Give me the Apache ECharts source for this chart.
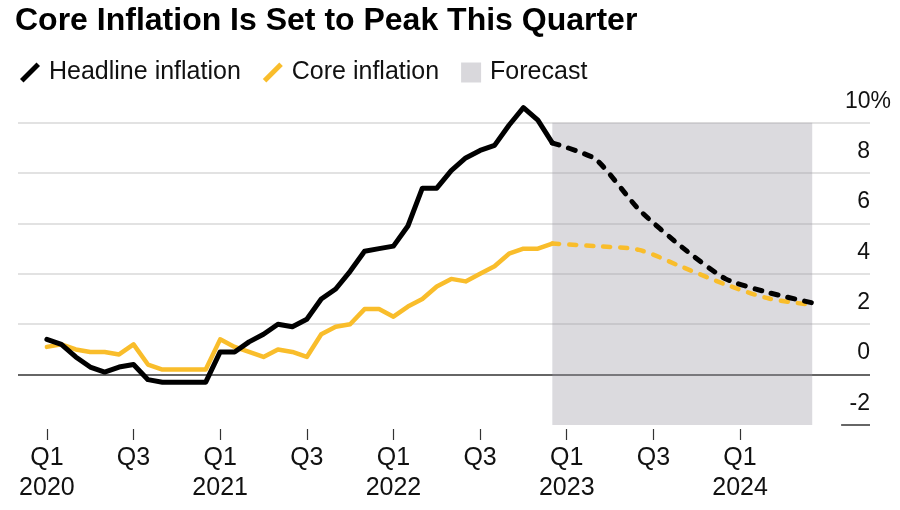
<!DOCTYPE html>
<html><head><meta charset="utf-8">
<script src="https://cdn.jsdelivr.net/npm/echarts@6/dist/echarts.min.js"></script>
<style>html,body{margin:0;padding:0;background:#fff}#c{width:900px;height:510px}</style>
</head><body><div id="c"></div>
<script>
// Month categories (axis range: Nov 2019 – Oct 2024)
const months = [];
for (let y = 2019; y <= 2024; y++) {
  for (let m = 1; m <= 12; m++) {
    const k = y + '-' + String(m).padStart(2, '0');
    if (k >= '2019-11' && k <= '2024-10') months.push(k);
  }
}
// Actual monthly readings, Jan 2020 – Dec 2022
const actualMonths = months.slice(2, 38);
const headlineActual = [1.4,1.2,0.7,0.3,0.1,0.3,0.4,-0.2,-0.3,-0.3,-0.3,-0.3,
  0.9,0.9,1.3,1.6,2.0,1.9,2.2,3.0,3.4,4.1,4.9,5.0,
  5.1,5.9,7.4,7.4,8.1,8.6,8.9,9.1,9.9,10.6,10.1,9.2];
const coreActual = [1.1,1.2,1.0,0.9,0.9,0.8,1.2,0.4,0.2,0.2,0.2,0.2,
  1.4,1.1,0.9,0.7,1.0,0.9,0.7,1.6,1.9,2.0,2.6,2.6,
  2.3,2.7,3.0,3.5,3.8,3.7,4.0,4.3,4.8,5.0,5.0,5.2];
// Quarterly forecast
const forecastMonths = ['2022-12','2023-03','2023-06','2023-09','2023-12','2024-03','2024-06'];
const headlineForecast = [9.2, 8.55, 6.55, 5.05, 3.8, 3.25, 2.85];
const coreForecast = [5.2, 5.1, 4.95, 4.27, 3.58, 3.02, 2.77];
const yTicks = [-2, 0, 2, 4, 6, 8, 10];

const FONT = 'Liberation Sans';
const BLACK = '#000000';
const GOLD = '#f9bd2b';
const pairs = (xs, vs) => xs.map((x, i) => [x, vs[i]]);
const isQ = (i, v) => /-(01|07)$/.test(v) && v <= '2024-06';
const slash = 'path://M0,16.5 L16.5,0 L20,3.5 L3.5,20 Z';

const chart = echarts.init(document.getElementById('c'));
chart.setOption({
  animation: false,
  backgroundColor: '#fff',
  title: {
    text: 'Core Inflation Is Set to Peak This Quarter',
    left: 10, top: 0,
    textStyle: { fontSize: 32, fontWeight: 'bold', color: '#000', fontFamily: FONT }
  },
  legend: {
    left: 15, top: 55, itemWidth: 20, itemHeight: 20, itemGap: 22,
    selectedMode: false,
    textStyle: { fontSize: 25, color: '#111', fontFamily: FONT, padding: [0, 0, 0, 4] },
    data: [
      { name: 'Headline inflation', icon: slash },
      { name: 'Core inflation', icon: slash },
      { name: 'Forecast', icon: 'rect' }
    ]
  },
  grid: { left: 18, right: 30, top: 122.7, bottom: 85 },
  xAxis: {
    type: 'category', data: months, boundaryGap: false, offset: 4,
    axisLine: { show: false, onZero: false },
    axisTick: { show: true, length: 11, interval: isQ, lineStyle: { color: '#333', width: 1.2 } },
    axisLabel: {
      interval: isQ, margin: 14, fontSize: 25, lineHeight: 30, color: '#111', fontFamily: FONT,
      formatter: v => v.endsWith('-01') ? 'Q1\n' + v.slice(0, 4) : 'Q3'
    },
    splitLine: { show: false }
  },
  yAxis: {
    type: 'value', position: 'right', min: yTicks[0], max: yTicks[yTicks.length - 1], interval: 2,
    axisLine: { show: false }, axisTick: { show: false },
    splitLine: { show: true, lineStyle: { width: 1.5,
      color: ['rgba(0,0,0,0)', '#333333', '#d8d8d8', '#d8d8d8', '#d8d8d8', '#d8d8d8', '#d8d8d8'] } },
    axisLabel: {
      inside: true, margin: 32, align: 'left', verticalAlign: 'bottom', padding: [0, 0, 10, 0],
      color: '#111', fontFamily: FONT, fontSize: 23,
      formatter: v => v === 10 ? '{q|10%}' : '{n|' + v + '}',
      rich: {
        n: { width: 32, align: 'right', fontSize: 23, color: '#111', fontFamily: FONT },
        q: { width: 53, align: 'right', fontSize: 23, color: '#111', fontFamily: FONT }
      }
    }
  },
  series: [
    {
      name: 'Forecast', type: 'line', data: [], itemStyle: { color: '#d9d8dc' },
      markArea: { silent: true, itemStyle: { color: 'rgba(155,152,164,0.36)' },
        data: [[{ xAxis: forecastMonths[0] }, { xAxis: forecastMonths[forecastMonths.length - 1] }]] }
    },
    {
      name: 'Core inflation', type: 'line', data: pairs(actualMonths, coreActual), clip: false,
      symbol: 'none', itemStyle: { color: GOLD },
      lineStyle: { color: GOLD, width: 4.5, join: 'round', cap: 'round' }
    },
    {
      name: 'Core forecast', type: 'line', data: pairs(forecastMonths, coreForecast), clip: false,
      symbol: 'none', smooth: 0.3, itemStyle: { color: GOLD },
      lineStyle: { color: GOLD, width: 4.5, type: [7, 10], cap: 'round', join: 'round' }
    },
    {
      name: 'Headline inflation', type: 'line', data: pairs(actualMonths, headlineActual), clip: false,
      symbol: 'none', itemStyle: { color: BLACK },
      lineStyle: { color: BLACK, width: 5, join: 'round', cap: 'round' }
    },
    {
      name: 'Headline forecast', type: 'line', data: pairs(forecastMonths, headlineForecast), clip: false,
      symbol: 'none', smooth: 0.2, itemStyle: { color: BLACK },
      lineStyle: { color: BLACK, width: 5, type: [7, 10], cap: 'round', join: 'round' }
    },
    {
      name: 'axis-underline', type: 'line', silent: true, symbol: 'none', clip: false,
      data: [[months[57], yTicks[0]], [months[59], yTicks[0]]],
      lineStyle: { color: '#333', width: 1.5 }
    }
  ]
});
</script>
</body></html>
